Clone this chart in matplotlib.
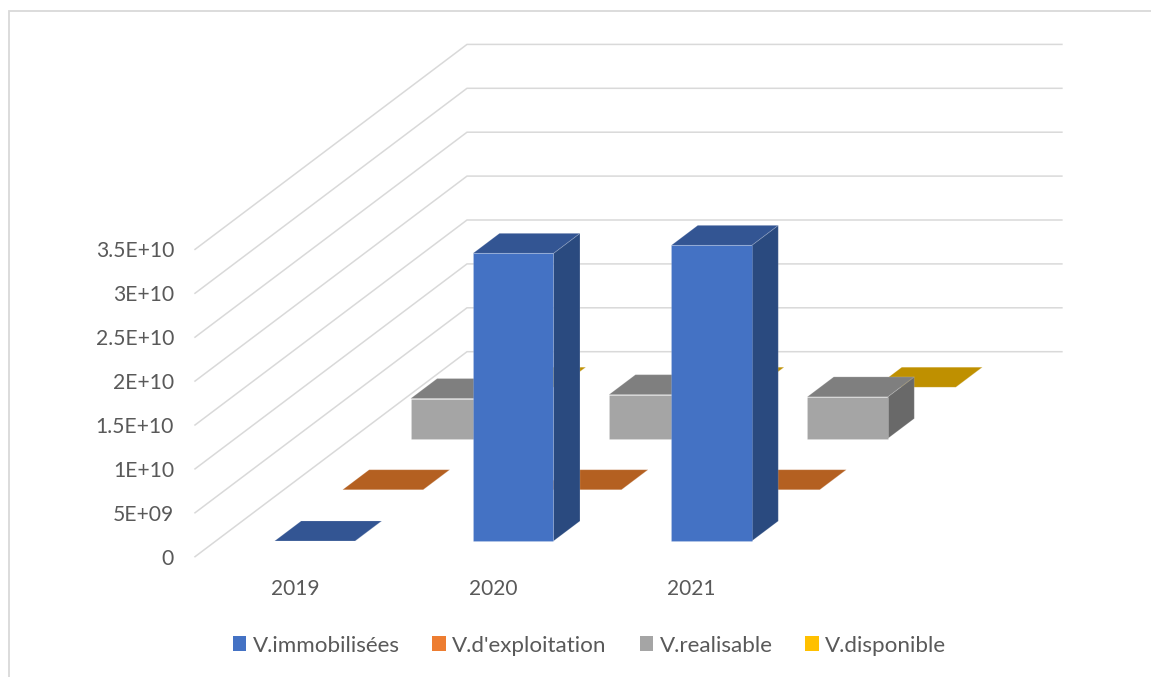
import matplotlib
matplotlib.use("Agg")
import matplotlib.pyplot as plt
from matplotlib.patches import Patch, Polygon

plt.rcParams['font.family'] = ['Lato', 'DejaVu Sans']

# ---- data ----
years = ['2019', '2020', '2021']
series_names = ['V.immobilisées', "V.d'exploitation", 'V.realisable', 'V.disponible']
immobilisees = [1.0e7, 3.277e10, 3.368e10]
exploitation = [1.0e7, 1.0e7, 1.0e7]
realisable = [4.56e9, 5.0e9, 4.75e9]
disponible = [1.0e7, 1.0e7, 1.0e7]
value_ticks = [0, 5e9, 1e10, 1.5e10, 2e10, 2.5e10, 3e10, 3.5e10]
value_labels = ['0', '5E+09', '1E+10', '1.5E+10', '2E+10', '2.5E+10', '3E+10', '3.5E+10']

# ---- styles: (front, top, side) ----
legend_colors = ['#4472C4', '#ED7D31', '#A5A5A5', '#FFC000']
face_colors = [
    ('#4472C4', '#335593', '#2A4A7F'),
    ('#ED7D31', '#B46021', '#9E5220'),
    ('#A5A5A5', '#7F7F7F', '#696969'),
    ('#FFC000', '#BF9000', '#A67C00'),
]
GRID = '#D9D9D9'
TEXT = '#595959'

# ---- oblique projection: pixel scale of the 3-D box ----
ORIGIN = (195.0, 556.7)
CAT_W = 198.3
DEPTH = (68.0, -51.25)
PX_PER_VALUE = 43.9 / 5e9
CAT_MARGIN = 0.297
SER_MARGIN = 0.305
N_CAT, N_SER = len(years), len(series_names)


def proj(cat, ser, val):
    """cat / ser in box units, val in chart units -> pixel position."""
    return (ORIGIN[0] + cat * CAT_W + ser * DEPTH[0],
            ORIGIN[1] + ser * DEPTH[1] - val * PX_PER_VALUE)


fig = plt.figure(figsize=(11.51, 6.77), dpi=100, facecolor='white')
ax = fig.add_axes([0, 0, 1, 1])
ax.set_xlim(0, 1151)
ax.set_ylim(677, 0)
ax.axis('off')

# outer frame of the pasted chart
ax.plot([9, 9, 1151], [677, 10.5, 10.5], color=GRID, lw=1.3, zorder=1,
        solid_joinstyle='miter')

# gridlines on floor side wall and back wall
for v in value_ticks:
    pts = [proj(0, 0, v), proj(0, N_SER, v), proj(N_CAT, N_SER, v)]
    ax.plot([p[0] for p in pts], [p[1] for p in pts], color=GRID, lw=1.1,
            zorder=2, solid_joinstyle='miter')

# bars, back to front
all_values = [immobilisees, exploitation, realisable, disponible]
z = 3
for s in reversed(range(N_SER)):
    front, top, side = face_colors[s]
    for c in reversed(range(N_CAT)):
        v = all_values[s][c]
        c0, c1 = c + CAT_MARGIN, c + 1 - CAT_MARGIN
        s0, s1 = s + SER_MARGIN, s + 1 - SER_MARGIN
        faces = [
            ([proj(c1, s0, 0), proj(c1, s1, 0), proj(c1, s1, v), proj(c1, s0, v)], side),
            ([proj(c0, s0, v), proj(c1, s0, v), proj(c1, s1, v), proj(c0, s1, v)], top),
            ([proj(c0, s0, 0), proj(c1, s0, 0), proj(c1, s0, v), proj(c0, s0, v)], front),
        ]
        for verts, col in faces:
            ax.add_patch(Polygon(verts, closed=True, facecolor=col,
                                 edgecolor=(1, 1, 1, 0.15), lw=0.7, zorder=z))
            z += 1

# value labels
for v, lab in zip(value_ticks, value_labels):
    ax.text(174, proj(0, 0, v)[1], lab, ha='right', va='center_baseline',
            fontsize=15.2, color=TEXT)

# category labels
for i, y in enumerate(years):
    ax.text(proj(i + 0.5, 0, 0)[0] + 1, 587, y, ha='center', va='center_baseline',
            fontsize=15.0, color=TEXT)

# legend
handles = [Patch(facecolor=c, edgecolor='none', label=n)
           for c, n in zip(legend_colors, series_names)]
ax.legend(handles=handles, ncols=4, loc='center', bbox_to_anchor=(589.5 / 1151, 1 - 645.5 / 677),
          bbox_transform=fig.transFigure, frameon=False, fontsize=16.1,
          labelcolor=TEXT, handlelength=0.62, handleheight=0.62, handletextpad=0.27,
          columnspacing=1.47, borderpad=0, borderaxespad=0)

fig.savefig('out.png', dpi=100, facecolor='white')
